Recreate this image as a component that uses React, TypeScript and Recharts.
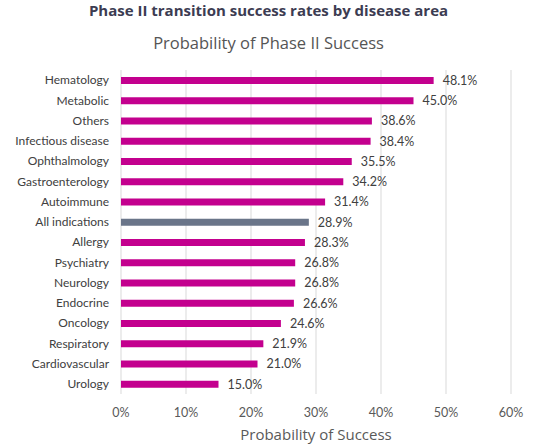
import { BarChart, Bar, XAxis, YAxis, CartesianGrid, LabelList, Cell } from "recharts"

const categories = [
        "Hematology",
        "Metabolic",
        "Others",
        "Infectious disease",
        "Ophthalmology",
        "Gastroenterology",
        "Autoimmune",
        "All indications",
        "Allergy",
        "Psychiatry",
        "Neurology",
        "Endocrine",
        "Oncology",
        "Respiratory",
        "Cardiovascular",
        "Urology",
]

const successRates = [48.1, 45.0, 38.6, 38.4, 35.5, 34.2, 31.4, 28.9, 28.3, 26.8, 26.8, 26.6, 24.6, 21.9, 21.0, 15.0]

const xTicks = [0, 10, 20, 30, 40, 50, 60]

const HIGHLIGHT = "All indications"
const MAGENTA = "#C3008E"
const SLATE = "#6A7589"
const TITLE_FONT = "'Open Sans', 'DejaVu Sans', sans-serif"
const LABEL_FONT = "Lato, 'Open Sans', sans-serif"

const rows = categories.map((name, i) => ({ name, value: successRates[i] }))

export default function App() {
        return (
                <div
                        style={{
                                position: "fixed",
                                left: 0,
                                top: 0,
                                width: 537,
                                height: 444,
                                background: "#fff",
                                fontFamily: TITLE_FONT,
                        }}
                >
                        {/* Titles */}
                        <div
                                style={{
                                        position: "absolute",
                                        top: 0,
                                        width: 537,
                                        textAlign: "center",
                                        fontSize: 15,
                                        fontWeight: 700,
                                        color: "#3C3C52",
                                }}
                        >
                                Phase II transition success rates by disease area
                        </div>
                        <div
                                style={{
                                        position: "absolute",
                                        top: 31,
                                        width: 537,
                                        textAlign: "center",
                                        fontSize: 16.5,
                                        color: "#555",
                                }}
                        >
                                Probability of Phase II Success
                        </div>

                        <div style={{ position: "absolute", left: 0, top: 0 }}>
                                <BarChart
                                        width={537}
                                        height={444}
                                        data={rows}
                                        layout="vertical"
                                        margin={{ top: 70, right: 26, left: 0, bottom: 20 }}
                                >
                                        <CartesianGrid horizontal={false} stroke="#D9D9D9" />
                                        <XAxis
                                                type="number"
                                                domain={[0, 60]}
                                                ticks={xTicks}
                                                tickFormatter={(v: number) => `${v}%`}
                                                axisLine={false}
                                                tickLine={false}
                                                tickMargin={8}
                                                height={30}
                                                tick={{ fontSize: 12.5, fill: "#595959", fontFamily: LABEL_FONT }}
                                        />
                                        <YAxis
                                                type="category"
                                                dataKey="name"
                                                width={121}
                                                axisLine={false}
                                                tickLine={false}
                                                tickMargin={6}
                                                interval={0}
                                                tick={{ fontSize: 12, fill: "#404040", fontFamily: LABEL_FONT }}
                                        />
                                        <Bar dataKey="value" barSize={7} isAnimationActive={false}>
                                                {rows.map((r) => (
                                                        <Cell key={r.name} fill={r.name === HIGHLIGHT ? SLATE : MAGENTA} />
                                                ))}
                                                <LabelList
                                                        dataKey="value"
                                                        position="right"
                                                        offset={9}
                                                        formatter={(v: any) => `${Number(v).toFixed(1)}%`}
                                                        style={{ fontSize: 12.5, fill: "#404040", fontFamily: LABEL_FONT }}
                                                />
                                        </Bar>
                                </BarChart>
                        </div>

                        <div
                                style={{
                                        position: "absolute",
                                        top: 424,
                                        left: 121,
                                        width: 390,
                                        textAlign: "center",
                                        fontSize: 15,
                                        color: "#595959",
                                }}
                        >
                                Probability of Success
                        </div>
                </div>
        )
}
